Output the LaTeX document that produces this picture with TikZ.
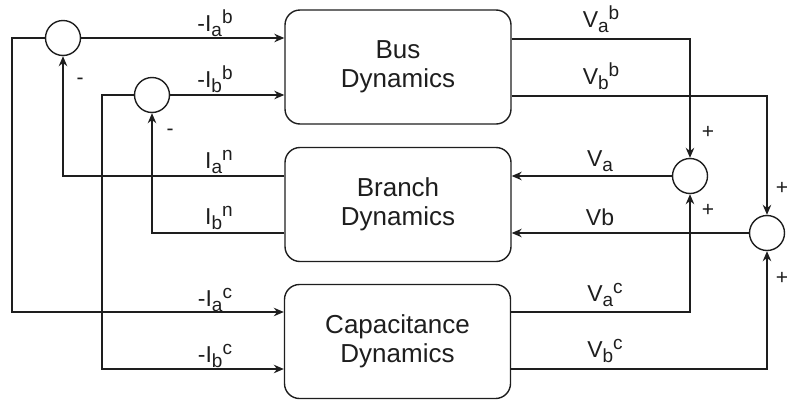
\documentclass[tikz,border=0pt]{standalone}
\usepackage{fontspec}
\setmainfont{Liberation Sans}
\usetikzlibrary{arrows.meta}
\definecolor{ln}{RGB}{30,30,30}
\newcommand\lsub[1]{\raisebox{-5pt}{\fontsize{19}{20}\selectfont #1}}
\newcommand\lsup[1]{\raisebox{8pt}{\fontsize{19}{20}\selectfont #1}}
\begin{document}
\begin{tikzpicture}[x=1pt,y=-1pt,
  line width=1.4pt, color=ln,
  blk/.style={draw, rounded corners=15pt, minimum width=226pt, minimum height=114pt, align=center, font=\fontsize{26}{29}\selectfont, inner sep=0pt},
  sum/.style={draw, circle, minimum size=35pt, inner sep=0pt},
  arr/.style={-{Stealth[length=10pt,width=8.5pt]}},
  lbl/.style={anchor=base, font=\fontsize{23}{25}\selectfont, inner sep=0pt},
  sgn/.style={font=\fontsize{21}{24}\selectfont, inner sep=0pt}]
\useasboundingbox (0,0) rectangle (787,402);
% blocks
\node[blk] (bus) at (398,67) {Bus\\Dynamics};
\node[blk] (branch) at (398,204.5) {Branch\\Dynamics};
\node[blk] (cap) at (397.5,341.5) {Capacitance\\Dynamics};
% summing junctions
\node[sum] (c1) at (63,38) {};
\node[sum] (c2) at (152,95) {};
\node[sum] (c3) at (690,176) {};
\node[sum] (c4) at (767,233) {};
% helper coordinates
\coordinate (ka) at (12,38);
\coordinate (kb) at (12,312);
\coordinate (ma) at (102,95);
\coordinate (mb) at (102,369);
\coordinate (na) at (0,176);
\coordinate (nb) at (0,233);
\coordinate (pa) at (0,39);
\coordinate (pb) at (0,96);
\coordinate (qa) at (0,312);
\coordinate (qb) at (0,369);
% connectors
\draw[arr] (c1.west) -- (ka) -- (kb) -- (cap.west |- kb);
\draw[arr] (c2.west) -- (ma) -- (mb) -- (cap.west |- mb);
\draw[arr] (c1.east) -- (bus.west |- c1.east);
\draw[arr] (c2.east) -- (bus.west |- c2.east);
\draw[arr] (branch.west |- na) -| (c1.south);
\draw[arr] (branch.west |- nb) -| (c2.south);
\draw[arr] (bus.east |- pa) -| (c3.north);
\draw[arr] (bus.east |- pb) -| (c4.north);
\draw[arr] (c3.west) -- (branch.east |- c3.west);
\draw[arr] (c4.west) -- (branch.east |- c4.west);
\draw[arr] (cap.east |- qa) -| (c3.south);
\draw[arr] (cap.east |- qb) -| (c4.south);
% labels
\node[lbl] (t1) at (215,31) {-I\lsub{a}\lsup{b}};
\node[lbl] (t2) at (215,87) {-I\lsub{b}\lsup{b}};
\node[lbl] (t3) at (219,168) {I\lsub{a}\lsup{n}};
\node[lbl] (t4) at (219,224) {I\lsub{b}\lsup{n}};
\node[lbl] (t5) at (215,306) {-I\lsub{a}\lsup{c}};
\node[lbl] (t6) at (215,362) {-I\lsub{b}\lsup{c}};
\node[lbl] (t7) at (601,27) {V\lsub{a}\lsup{b}};
\node[lbl] (t8) at (601,84) {V\lsub{b}\lsup{b}};
\node[lbl] (t9) at (600,166) {V\lsub{a}};
\node[lbl] (t10) at (600,225) {Vb};
\node[lbl] (t11) at (605,301) {V\lsub{a}\lsup{c}};
\node[lbl] (t12) at (605,357) {V\lsub{b}\lsup{c}};
% signs
\node[sgn] (s1) at (80,81) {-};
\node[sgn] (s2) at (170,132) {-};
\node[sgn] (s3) at (708,132) {+};
\node[sgn] (s4) at (708,210) {+};
\node[sgn] (s5) at (782,188) {+};
\node[sgn] (s6) at (782,278) {+};
\end{tikzpicture}
\end{document}
